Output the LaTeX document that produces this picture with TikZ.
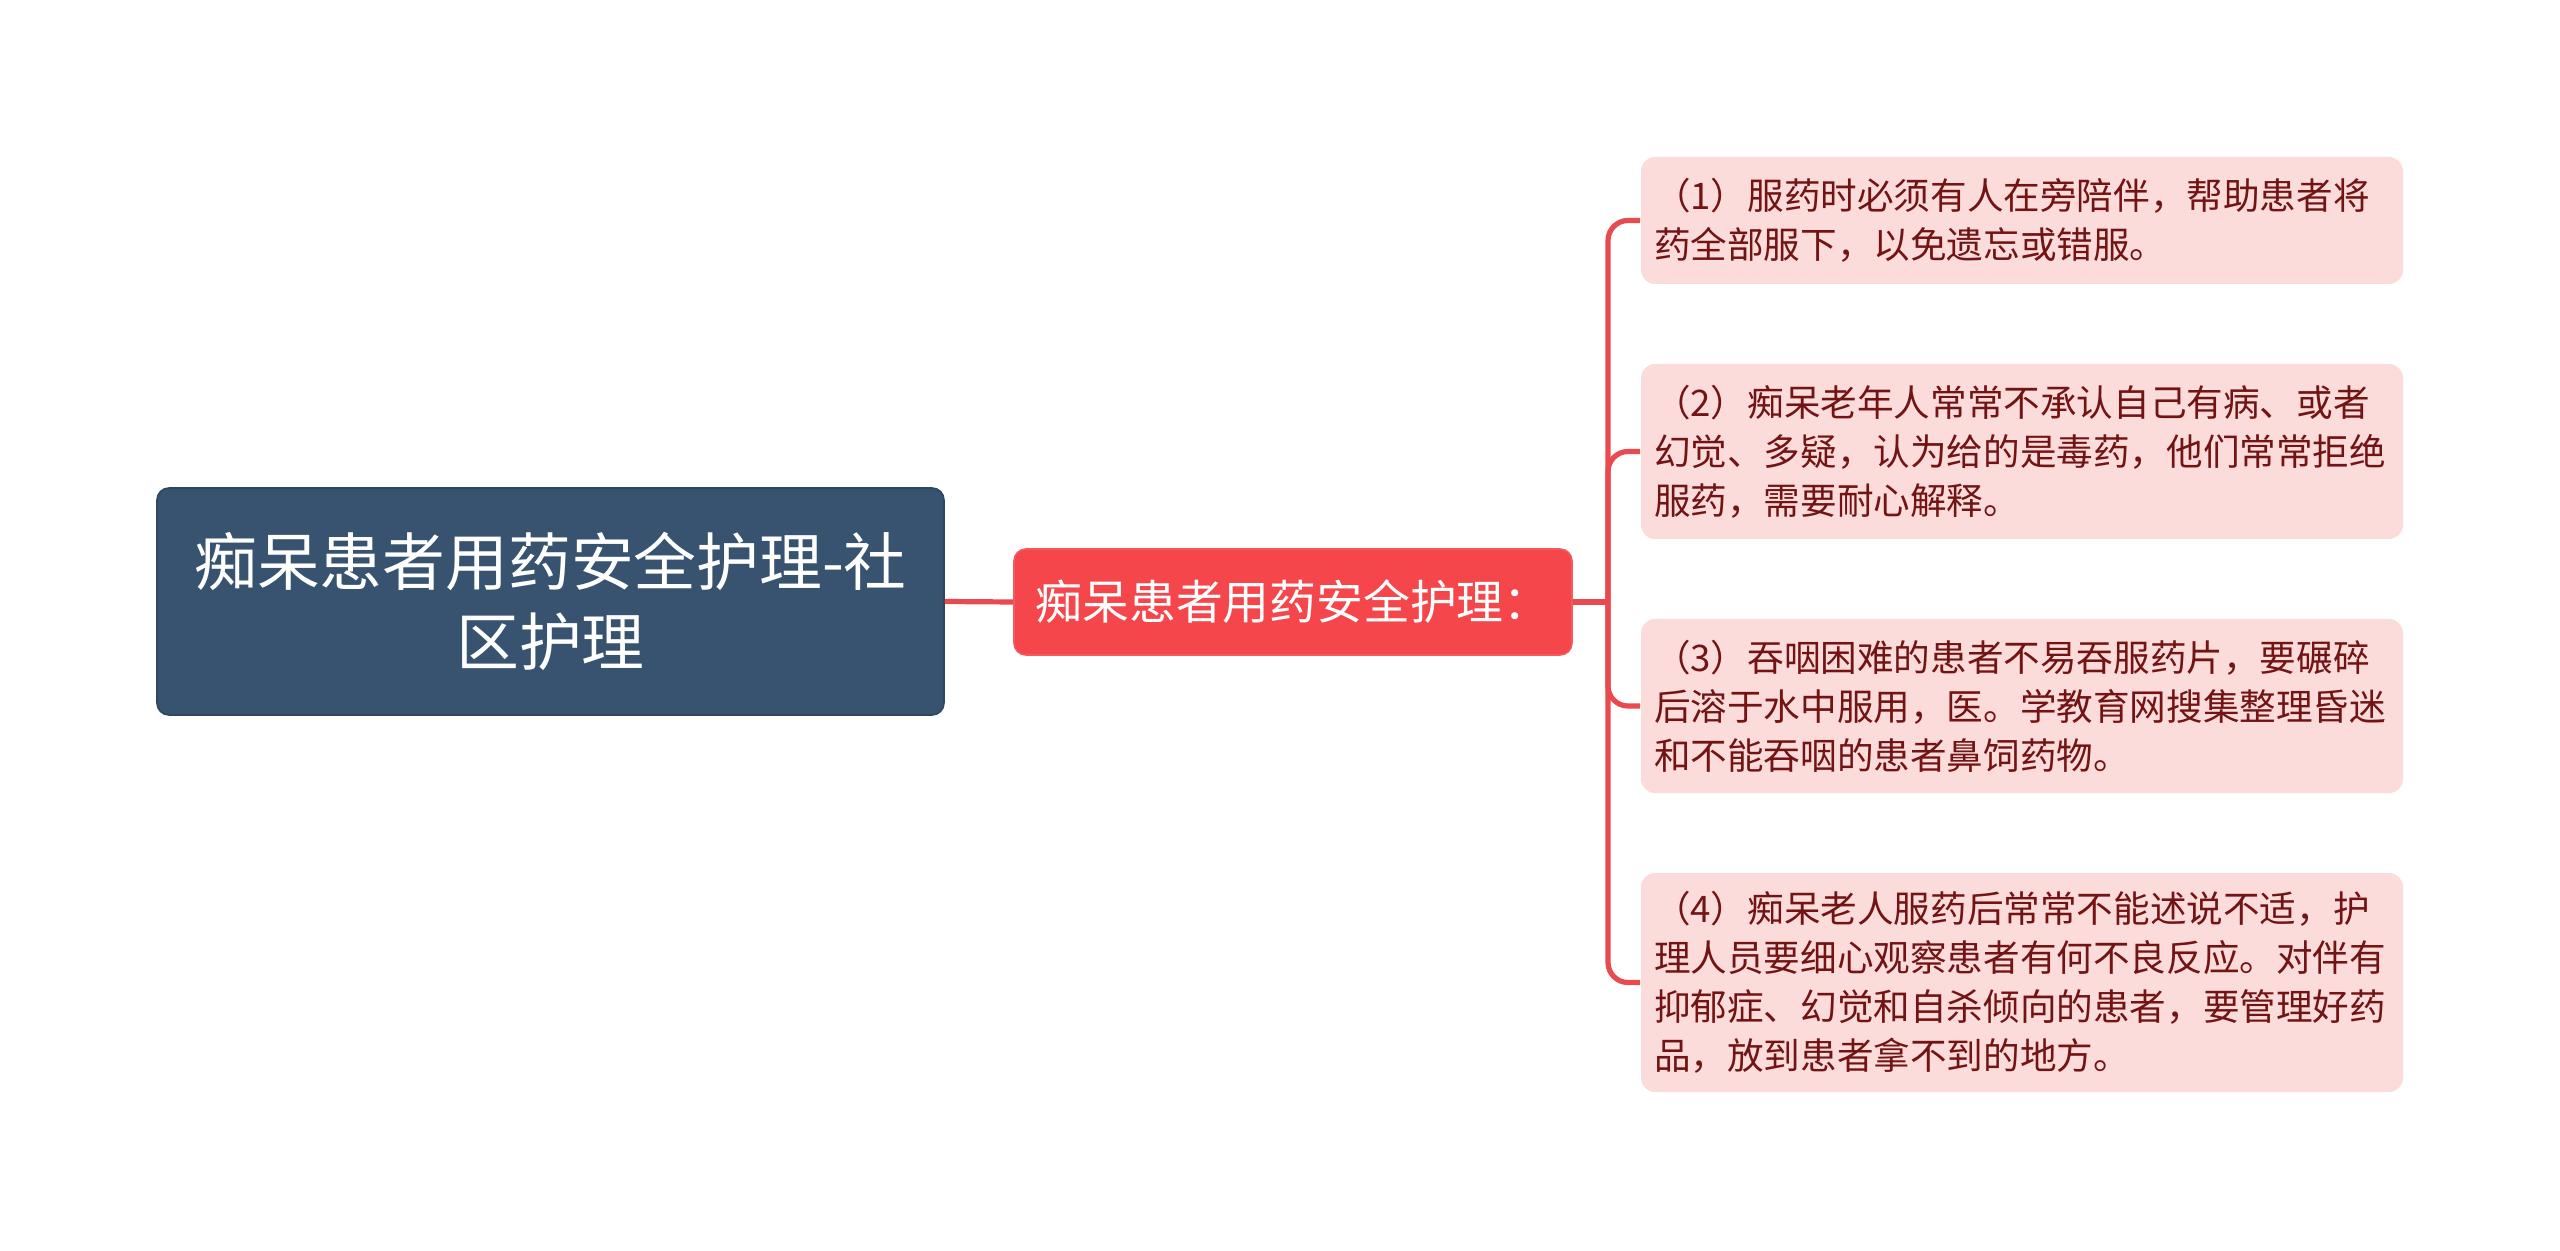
\documentclass[tikz,border=0pt]{standalone}
\usepackage{fontspec}
\newfontfamily\cjk{Noto Sans CJK SC}
\definecolor{rootfill}{HTML}{37536F}
\definecolor{midfill}{HTML}{F4464B}
\definecolor{leaffill}{HTML}{FCDBDB}
\definecolor{leaftext}{HTML}{721414}
\definecolor{linkcol}{HTML}{E84A4F}
\tikzset{
  rootbox/.style={draw=rootfill!85!black, line width=0.4pt, fill=rootfill, rounded corners=3pt,
    text=white, font=\cjk\fontsize{15.7}{20}\selectfont, align=center,
    minimum width=196.75pt, minimum height=56.75pt, inner sep=0pt},
  midbox/.style={draw=midfill!90!white, line width=0.4pt, fill=midfill, rounded corners=3pt,
    text=white, font=\cjk\fontsize{11.7}{14}\selectfont, align=center,
    minimum width=139.5pt, minimum height=26.5pt, inner sep=0pt},
  leafbox/.style={fill=leaffill, rounded corners=3.5pt, text=leaftext,
    font=\cjk\fontsize{9.15}{12.25}\selectfont, align=left, text width=184pt,
    inner xsep=3.25pt, inner ysep=0pt, minimum width=190.5pt},
  link/.style={draw=linkcol, line width=1.3pt},
}
\begin{document}
\begin{tikzpicture}[x=0.25pt, y=-0.25pt]
\useasboundingbox (0,0) rectangle (2560,1251);
\node[rootbox] (root) at (550.5,601.5) {痴呆患者用药安全护理-社\\区护理};
\node[midbox] (mid) at (1293,602) {痴呆患者用药安全护理：};
\node[leafbox, minimum height=31.75pt] (l1) at (2022,220.5)
  {（1）服药时必须有人在旁陪伴，帮助患者将\\药全部服下，以免遗忘或错服。};
\node[leafbox, minimum height=43.75pt] (l2) at (2022,451.5)
  {（2）痴呆老年人常常不承认自己有病、或者\\幻觉、多疑，认为给的是毒药，他们常常拒绝\\服药，需要耐心解释。};
\node[leafbox, minimum height=43.5pt] (l3) at (2022,706)
  {（3）吞咽困难的患者不易吞服药片，要碾碎\\后溶于水中服用，医。学教育网搜集整理昏迷\\和不能吞咽的患者鼻饲药物。};
\node[leafbox, minimum height=54.75pt] (l4) at (2022,982.5)
  {（4）痴呆老人服药后常常不能述说不适，护\\理人员要细心观察患者有何不良反应。对伴有\\抑郁症、幻觉和自杀倾向的患者，要管理好药\\品，放到患者拿不到的地方。};
\coordinate (J) at (1608,602);
\draw[link] (root.east) -- (mid.west);
\draw[link] (mid.east) -- (J);
\foreach \n in {l1,l2,l3,l4}
  \draw[link, rounded corners=5pt] (J) |- (\n.west);
\end{tikzpicture}
\end{document}
